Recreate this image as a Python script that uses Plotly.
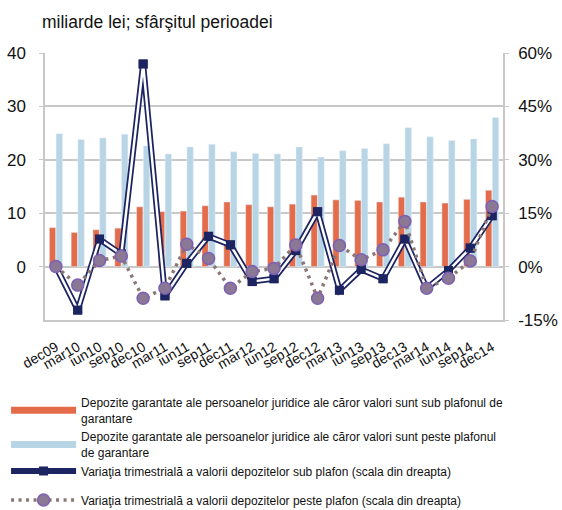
"""Depozite garantate ale persoanelor juridice — bare + variaţii trimestriale."""

import plotly.graph_objects as go

quarters = [
    "dec09", "mar10", "iun10", "sep10", "dec10", "mar11", "iun11", "sep11",
    "dec11", "mar12", "iun12", "sep12", "dec12", "mar13", "iun13", "sep13",
    "dec13", "mar14", "iun14", "sep14", "dec14",
]
# miliarde lei
sub_plafon = [
    7.3, 6.4, 6.9, 7.2, 11.2, 10.3, 10.4, 11.4, 12.1, 11.6, 11.2,
    11.7, 13.4, 12.5, 12.4, 12.1, 13.0, 12.1, 11.9, 12.6, 14.3,
]
peste_plafon = [
    24.9, 23.8, 24.1, 24.8, 22.6, 21.1, 22.4, 22.9, 21.5, 21.2, 21.1,
    22.4, 20.5, 21.7, 22.1, 23.0, 26.0, 24.3, 23.6, 23.9, 27.9,
]
# variaţii trimestriale, %
var_sub = [
    0.0, -12.2, 7.7, 3.5, 56.9, -8.2, 0.9, 8.5, 6.1, -4.2, -3.4,
    4.5, 15.4, -6.6, -0.8, -3.4, 7.7, -6.1, -1.1, 5.2, 14.3,
]
var_peste = [
    0.0, -5.2, 1.7, 3.0, -8.9, -6.1, 6.3, 2.3, -6.1, -1.4, -0.5,
    6.1, -8.9, 5.9, 1.9, 4.7, 12.7, -6.1, -3.3, 1.6, 16.9,
]
left_ticks = [0, 10, 20, 30, 40]
right_ticks = [-15, 0, 15, 30, 45, 60]

names = [
    "Depozite garantate ale persoanelor juridice ale căror valori sunt sub plafonul de<br>garantare",
    "Depozite garantate ale persoanelor juridice ale căror valori sunt peste plafonul<br>de garantare",
    "Variaţia trimestrială a valorii depozitelor sub plafon (scala din dreapta)",
    "Variaţia trimestrială a valorii depozitelor peste plafon (scala din dreapta)",
]

ORANGE = "#e46c4a"
BLUE = "#b8d5e6"
NAVY = "#1c2461"
DOTS = "#8c7676"
PURPLE = "#7e60b2"
GRID = "#c8c8c8"

fig = go.Figure()
fig.add_trace(go.Bar(x=quarters, y=sub_plafon, marker_color=ORANGE,
                     showlegend=False, name=names[0]))
fig.add_trace(go.Bar(x=quarters, y=peste_plafon, marker_color=BLUE,
                     showlegend=False, name=names[1]))

# Why: swatch-uri late în legendă, ca bara din original.
fig.add_trace(go.Scatter(x=[None], y=[None], mode="lines", name=names[0],
                         legendgroup="a", line={"color": ORANGE, "width": 7}))
fig.add_trace(go.Scatter(x=[None], y=[None], mode="lines", name=names[1],
                         legendgroup="a", line={"color": BLUE, "width": 7}))

# Linie dublă: contur bleumarin + miez alb, apoi markerii deasupra.
fig.add_trace(go.Scatter(
    x=quarters, y=var_sub, yaxis="y2", mode="lines+markers", name=names[2],
    legendgroup="a", line={"color": NAVY, "width": 6},
    marker={"symbol": "square", "size": 9, "color": NAVY},
))
fig.add_trace(go.Scatter(
    x=quarters, y=var_sub, yaxis="y2", mode="lines", showlegend=False,
    line={"color": "white", "width": 2.5}, hoverinfo="skip",
))
fig.add_trace(go.Scatter(
    x=quarters, y=var_sub, yaxis="y2", mode="markers", showlegend=False,
    marker={"symbol": "square", "size": 9, "color": NAVY}, hoverinfo="skip",
))
fig.add_trace(go.Scatter(
    x=quarters, y=var_peste, yaxis="y2", mode="lines+markers", name=names[3],
    legendgroup="b", line={"color": DOTS, "width": 3.5, "dash": "3px,4.5px"},
    marker={"symbol": "circle", "size": 12, "color": "#8a7895",
            "line": {"color": PURPLE, "width": 1.5}},
))

fig.update_layout(
    width=562, height=510,
    margin={"l": 45, "r": 59, "t": 53, "b": 190, "autoexpand": False},
    paper_bgcolor="white", plot_bgcolor="white",
    font={"family": "Liberation Sans, Arial, sans-serif", "color": "#111", "size": 12},
    barmode="group", bargap=0.38, bargroupgap=0.06,
    xaxis={
        # Why: fără padding de autorange din markeri — categoriile umplu axa.
        "type": "category", "range": [-0.5, len(quarters) - 0.5],
        "tickangle": -30, "tickfont": {"size": 14},
        "showline": True, "linecolor": GRID, "linewidth": 1.5,
        "showgrid": False, "ticks": "", "ticklabelstandoff": 12,
    },
    yaxis={
        "range": [-10, 40], "tickvals": left_ticks,
        "ticktext": [str(v) for v in left_ticks],
        "showgrid": True, "gridcolor": GRID, "gridwidth": 1.5,
        "zeroline": True, "zerolinecolor": GRID, "zerolinewidth": 1.5,
        "showline": True, "linecolor": GRID, "linewidth": 1.5,
        "ticks": "outside", "ticklen": 4, "tickcolor": GRID,
        "tickfont": {"size": 17}, "ticklabelstandoff": 10,
    },
    yaxis2={
        "range": [-15, 60], "tickvals": right_ticks,
        "ticktext": [f"{v}%" for v in right_ticks],
        "overlaying": "y", "side": "right",
        "showgrid": False, "zeroline": False,
        "showline": True, "linecolor": GRID, "linewidth": 1.5,
        "ticks": "outside", "ticklen": 4, "tickcolor": GRID,
        "tickfont": {"size": 17}, "ticklabelstandoff": 6,
    },
    legend={
        "x": -0.085, "y": -0.255, "xanchor": "left", "yanchor": "top",
        "orientation": "v", "font": {"size": 12}, "itemwidth": 65,
        "traceorder": "grouped", "tracegroupgap": 10,
        "bgcolor": "rgba(0,0,0,0)",
    },
    annotations=[{
        "text": "miliarde lei; sfârşitul perioadei", "xref": "paper", "yref": "paper",
        "x": -0.01, "y": 1.0, "yshift": 31, "xanchor": "left", "yanchor": "middle",
        "showarrow": False, "font": {"size": 17.5},
    }],
)

# Why: pagina are margin implicit de 8px pe body → figura ar fi decalată.
fig.write_html("out.html", config={"displayModeBar": False},
               post_script="document.body.style.margin='0';")
